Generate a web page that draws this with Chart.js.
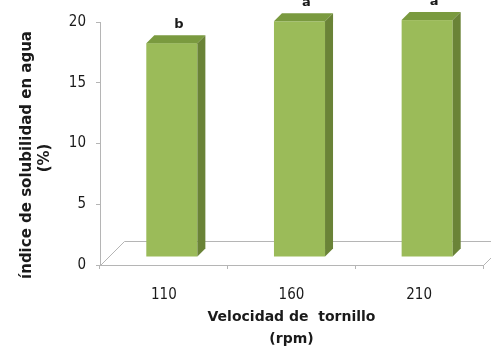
<!DOCTYPE html>
<html>
<head>
<meta charset="utf-8">
<script src="https://cdn.jsdelivr.net/npm/chart.js@4/dist/chart.umd.min.js"></script>
<style>
  html, body { margin: 0; padding: 0; background: #ffffff; }
  canvas { display: block; }
</style>
</head>
<body>
<canvas id="c" width="491" height="349"></canvas>
<script>
// Screw speed (rpm) and water solubility index (%)
const categories = ['110', '160', '210'];
const solubility = [17.6, 19.4, 19.5];
const groupLetters = ['b', 'a', 'a'];
const yTickValues = [0, 5, 10, 15, 20];

const yTitleLines = ['índice de solubilidad en agua', '(%)'];
const xTitleLines = ['Velocidad de  tornillo', '(rpm)'];

const FRONT = '#9bbb59';
const TOP = '#7a9a3f';
const SIDE = '#6a8337';
const AXIS = '#b5b5b5';
const TEXT = '#1a1a1a';
const FONT = "'DejaVu Sans', sans-serif";
const TICK_FONT = "'DejaVu Sans Condensed', 'DejaVu Sans', sans-serif";

// depth of the oblique projection (floor depth and bar front/back planes)
const FLOOR_DEPTH = 24;
const BAR_FRONT = 8;
const BAR_BACK = 16;

const floorPlugin = {
  id: 'floor',
  beforeDatasetsDraw(chart) {
    const { ctx, chartArea: a } = chart;
    ctx.save();
    ctx.strokeStyle = AXIS;
    ctx.lineWidth = 1;
    ctx.beginPath();
    ctx.moveTo(a.left + 0.5, a.bottom + 0.5);
    ctx.lineTo(a.left + FLOOR_DEPTH + 0.5, a.bottom - FLOOR_DEPTH + 0.5);
    ctx.lineTo(a.right + FLOOR_DEPTH + 0.5, a.bottom - FLOOR_DEPTH + 0.5);
    ctx.moveTo(a.right + 0.5, a.bottom + 0.5);
    ctx.lineTo(a.right + FLOOR_DEPTH + 0.5, a.bottom - FLOOR_DEPTH + 0.5);
    ctx.stroke();
    ctx.restore();
  }
};

const bars3dPlugin = {
  id: 'bars3d',
  afterDatasetsDraw(chart) {
    const { ctx } = chart;
    const meta = chart.getDatasetMeta(0);
    ctx.save();
    meta.data.forEach((bar, i) => {
      const p = bar.getProps(['x', 'y', 'base', 'width'], true);
      const l = p.x - p.width / 2, r = p.x + p.width / 2;
      const top = p.y, base = p.base;
      // front face
      ctx.fillStyle = FRONT;
      ctx.fillRect(l + BAR_FRONT, top - BAR_FRONT, p.width, base - top);
      // top face
      ctx.fillStyle = TOP;
      ctx.beginPath();
      ctx.moveTo(l + BAR_FRONT, top - BAR_FRONT);
      ctx.lineTo(r + BAR_FRONT, top - BAR_FRONT);
      ctx.lineTo(r + BAR_BACK, top - BAR_BACK);
      ctx.lineTo(l + BAR_BACK, top - BAR_BACK);
      ctx.closePath();
      ctx.fill();
      // side face
      ctx.fillStyle = SIDE;
      ctx.beginPath();
      ctx.moveTo(r + BAR_FRONT, top - BAR_FRONT);
      ctx.lineTo(r + BAR_BACK, top - BAR_BACK);
      ctx.lineTo(r + BAR_BACK, base - BAR_BACK);
      ctx.lineTo(r + BAR_FRONT, base - BAR_FRONT);
      ctx.closePath();
      ctx.fill();
      // significance letter
      ctx.fillStyle = TEXT;
      ctx.font = 'bold 13px ' + FONT;
      ctx.textAlign = 'center';
      ctx.textBaseline = 'alphabetic';
      ctx.fillText(groupLetters[i], p.x + (BAR_FRONT + BAR_BACK) / 2 + 3, top - BAR_BACK - 7);
    });
    ctx.restore();
  }
};

const yTitlePlugin = {
  id: 'yTitle',
  afterDraw(chart) {
    const { ctx } = chart;
    ctx.save();
    ctx.fillStyle = TEXT;
    ctx.font = 'bold 15px ' + FONT;
    ctx.textAlign = 'center';
    ctx.textBaseline = 'middle';
    ctx.translate(27, 155);
    ctx.rotate(-Math.PI / 2);
    ctx.fillText(yTitleLines[0], 0, 0);
    ctx.fillText(yTitleLines[1], -3, 18);
    ctx.restore();
  }
};

new Chart(document.getElementById('c'), {
  type: 'bar',
  data: {
    labels: categories,
    datasets: [{
      data: solubility,
      backgroundColor: 'rgba(0,0,0,0)',
      borderWidth: 0,
      categoryPercentage: 1,
      barPercentage: 0.4
    }]
  },
  options: {
    responsive: false,
    animation: false,
    devicePixelRatio: 1,
    layout: { padding: { left: 0, top: 22, right: 8, bottom: 0 } },
    plugins: { legend: { display: false }, tooltip: { enabled: false } },
    scales: {
      x: {
        offset: true,
        grid: { offset: true, drawOnChartArea: false, drawTicks: true, tickLength: 4, color: AXIS },
        border: { display: true, color: AXIS },
        ticks: { color: TEXT, font: { family: TICK_FONT, size: 15 }, padding: 17, maxRotation: 0 },
        title: {
          display: true,
          text: xTitleLines,
          color: TEXT,
          font: { family: FONT, size: 14, weight: 'bold', lineHeight: 1.62 },
          padding: { top: 0, bottom: -2 }
        },
        afterFit(scale) { scale.height = 84; }
      },
      y: {
        min: 0,
        max: 20,
        afterBuildTicks(scale) { scale.ticks = yTickValues.map(v => ({ value: v })); },
        grid: { drawOnChartArea: false, drawTicks: true, tickLength: 4, color: AXIS },
        border: { display: true, color: AXIS },
        ticks: { color: TEXT, font: { family: TICK_FONT, size: 15 }, padding: 10 },
        afterFit(scale) { scale.width = 100; }
      }
    }
  },
  plugins: [floorPlugin, bars3dPlugin, yTitlePlugin]
});
</script>
</body>
</html>
